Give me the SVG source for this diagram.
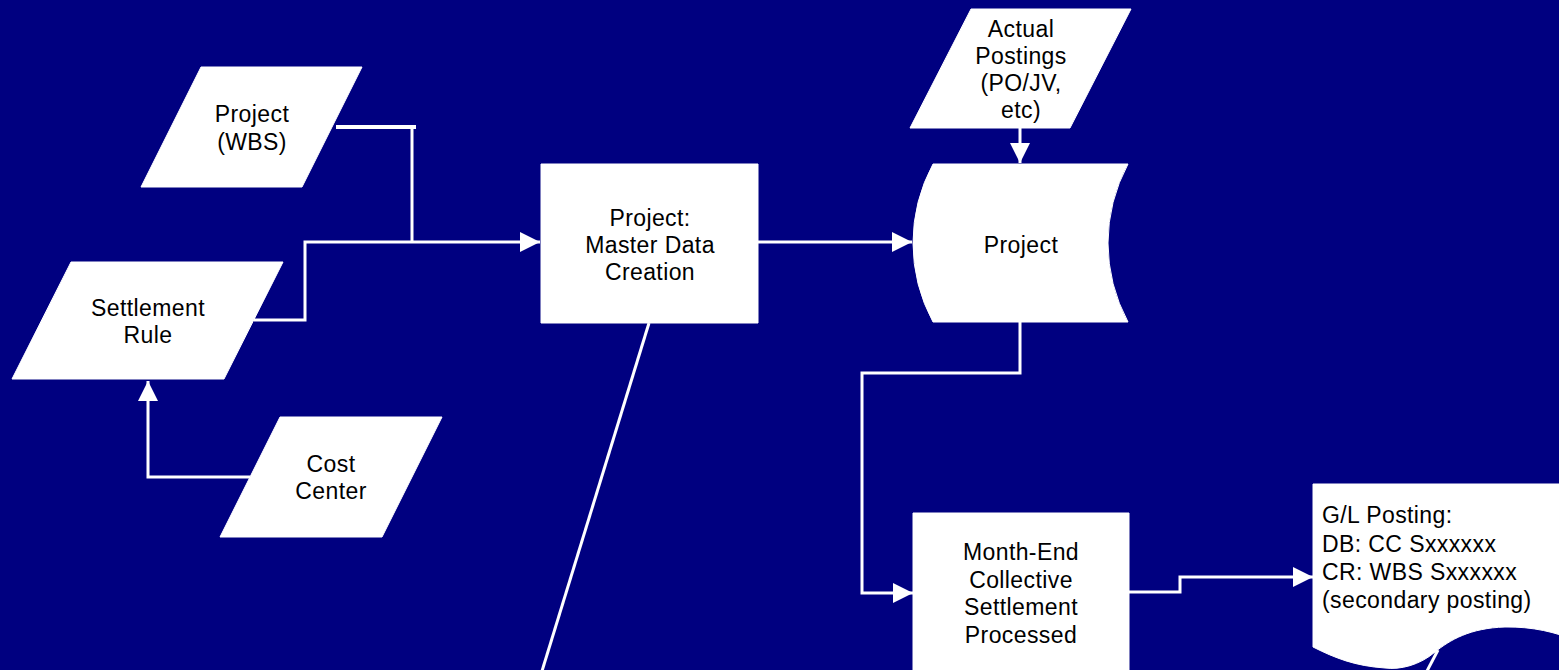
<svg xmlns="http://www.w3.org/2000/svg" width="1559" height="670" viewBox="0 0 1559 670">
<style>
.bg{fill:#000080}
.shape{fill:#ffffff;stroke:#ffffff;stroke-width:1;stroke-linejoin:round}
.lbl{font-family:"Liberation Sans",Arial,sans-serif;font-size:23px;letter-spacing:0.4px;fill:#000000;text-anchor:middle}
.lbl-l{font-family:"Liberation Sans",Arial,sans-serif;font-size:23px;letter-spacing:0.4px;fill:#000000}
.conn{fill:none;stroke:#ffffff;stroke-width:3}
</style>
<defs>
<marker id="arrow" markerUnits="userSpaceOnUse" markerWidth="20" markerHeight="20" refX="20" refY="10" orient="auto">
<path d="M0,0 L20,10 L0,20 Z" fill="#ffffff"/>
</marker>
</defs>
<rect class="bg" x="0" y="0" width="1559" height="670"/>
<g id="connectors">
<polyline class="conn" points="336,127 416,127" style="stroke-width:4"/>
<polyline class="conn" points="412,127 412,242"/>
<polyline class="conn" points="254,320 305,320 305,242 540,242" marker-end="url(#arrow)"/>
<polyline class="conn" points="250,477 148,477 148,381" marker-end="url(#arrow)"/>
<polyline class="conn" points="1020,127 1020,163" marker-end="url(#arrow)"/>
<polyline class="conn" points="758,242 912,242" marker-end="url(#arrow)"/>
<polyline class="conn" points="1020,322 1020,373 862,373 862,593 913,593" marker-end="url(#arrow)"/>
<polyline class="conn" points="1129,592 1180,592 1180,577 1313,577" marker-end="url(#arrow)"/>
<line class="conn" x1="649" y1="323" x2="542" y2="671"/>
<line class="conn" x1="1438" y1="650" x2="1427" y2="671"/>
</g>
<g id="project-wbs">
<polygon class="shape" points="201,67 362,67 302,187 141,187"/>
<text class="lbl" x="252" y="122">Project</text>
<text class="lbl" x="252" y="150">(WBS)</text>
</g>
<g id="settlement-rule">
<polygon class="shape" points="71,262 283,262 224,379 12,379"/>
<text class="lbl" x="148" y="316">Settlement</text>
<text class="lbl" x="148" y="343">Rule</text>
</g>
<g id="cost-center">
<polygon class="shape" points="280,417 442,417 382,537 220,537"/>
<text class="lbl" x="331" y="472">Cost</text>
<text class="lbl" x="331" y="499">Center</text>
</g>
<g id="master-data">
<rect class="shape" x="541" y="164" width="217" height="159"/>
<text class="lbl" x="650" y="226">Project:</text>
<text class="lbl" x="650" y="253">Master Data</text>
<text class="lbl" x="650" y="280">Creation</text>
</g>
<g id="actual-postings">
<polygon class="shape" points="971,9 1131,9 1070,128 910,128"/>
<text class="lbl" x="1021" y="37">Actual</text>
<text class="lbl" x="1021" y="64">Postings</text>
<text class="lbl" x="1021" y="91">(PO/JV,</text>
<text class="lbl" x="1021" y="118">etc)</text>
</g>
<g id="project">
<path class="shape" d="M933,164 H1128 A166,166 0 0,0 1128,322 H933 A166,166 0 0,1 933,164 Z"/>
<text class="lbl" x="1021" y="253">Project</text>
</g>
<g id="month-end">
<rect class="shape" x="913" y="513" width="216" height="170"/>
<text class="lbl" x="1021" y="560">Month-End</text>
<text class="lbl" x="1021" y="588">Collective</text>
<text class="lbl" x="1021" y="615">Settlement</text>
<text class="lbl" x="1021" y="643">Processed</text>
</g>
<g id="gl-posting">
<path class="shape" d="M1313,484 H1620 V670 C1600,650 1560,626 1505,627 C1470,628 1450,640 1435,652 C1420,665 1400,670 1385,668 C1355,666 1335,658 1313,647 Z"/>
<text class="lbl-l" x="1322" y="523">G/L Posting:</text>
<text class="lbl-l" x="1322" y="552">DB: CC Sxxxxxx</text>
<text class="lbl-l" x="1322" y="580">CR: WBS Sxxxxxx</text>
<text class="lbl-l" x="1322" y="608">(secondary posting)</text>
</g>
</svg>
